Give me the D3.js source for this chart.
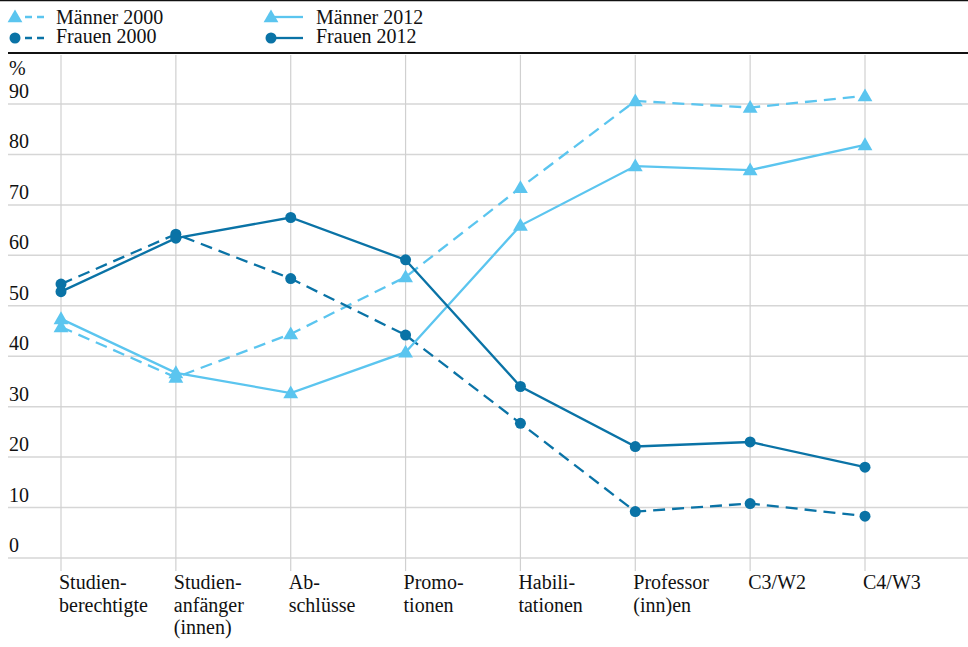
<!DOCTYPE html>
<html><head><meta charset="utf-8">
<script src="https://cdn.jsdelivr.net/npm/d3@7"></script>
<style>body{margin:0;background:#fff}svg{display:block}</style>
</head><body><svg id="c" width="968" height="647"></svg>
<script>
const categories = [["Studien-","berechtigte"],["Studien-","anfänger","(innen)"],["Ab-","schlüsse"],["Promo-","tionen"],["Habili-","tationen"],["Professor","(inn)en"],["C3/W2"],["C4/W3"]];
const maenner2000 = [45.8, 35.8, 44.4, 55.7, 73.4, 90.6, 89.3, 91.6];
const frauen2000  = [54.3, 64.2, 55.4, 44.2, 26.7, 9.2, 10.8, 8.3];
const maenner2012 = [47.4, 36.7, 32.7, 40.8, 65.9, 77.7, 76.9, 81.9];
const frauen2012  = [52.8, 63.4, 67.5, 59.1, 34.0, 22.1, 23.0, 18.0];
const yTicks = [0,10,20,30,40,50,60,70,80,90];
const seriesNames = ["Männer 2000","Frauen 2000","Männer 2012","Frauen 2012"];

const light = "#5BC5EF", dark = "#0A73A6";
const series = [
  {name: seriesNames[0], values: maenner2000, color: light, dash: "12,7", sym: "tri"},
  {name: seriesNames[1], values: frauen2000, color: dark, dash: "12,7", sym: "circ"},
  {name: seriesNames[2], values: maenner2012, color: light, dash: null, sym: "tri"},
  {name: seriesNames[3], values: frauen2012, color: dark, dash: null, sym: "circ"}
];

const svg = d3.select("#c")
  .attr("font-family", "'Liberation Serif', 'Times New Roman', Times, 'DejaVu Serif', serif")
  .attr("font-size", 20).attr("fill", "#111");
const x = d3.scalePoint().domain(d3.range(categories.length)).range([61, 865]);
const y = d3.scaleLinear().domain([0, 90]).range([558, 104]);

svg.append("line").attr("x1",0).attr("x2",968).attr("y1",0.5).attr("y2",0.5).attr("stroke","#111").attr("stroke-width",1.5);
svg.append("line").attr("x1",8).attr("x2",968).attr("y1",53).attr("y2",53).attr("stroke","#111").attr("stroke-width",2.2);

svg.append("g").selectAll("line").data(yTicks).join("line")
  .attr("x1",8).attr("x2",968).attr("y1",d=>y(d)).attr("y2",d=>y(d))
  .attr("stroke","#d6d6d6").attr("stroke-width",1.5);
svg.append("g").selectAll("line").data(d3.range(categories.length)).join("line")
  .attr("x1",d=>x(d)).attr("x2",d=>x(d)).attr("y1",55).attr("y2",571)
  .attr("stroke","#d0d0d0").attr("stroke-width",1.2);

svg.append("g").selectAll("text").data(yTicks).join("text")
  .attr("x",9).attr("y",d=>y(d)-6).text(d=>d);
svg.append("text").attr("x",9).attr("y",75).text("%");

const xl = svg.append("g").selectAll("text").data(categories).join("text")
  .attr("x",(d,i)=>x(i)-2).attr("y",589);
xl.selectAll("tspan").data(d=>d).join("tspan")
  .attr("x",function(){return this.parentNode.getAttribute("x");})
  .attr("dy",(d,i)=>i===0?0:22.5).text(d=>d);

const tri = d3.symbol().type(d3.symbolTriangle).size(95);
function drawSym(g, s, cx, cy){
  if(s.sym==="tri") g.append("path").attr("d",tri).attr("transform",`translate(${cx},${cy+1})`).attr("fill",s.color);
  else g.append("circle").attr("cx",cx).attr("cy",cy).attr("r",5.5).attr("fill",s.color);
}

const line = d3.line().x((d,i)=>x(i)).y(d=>y(d));
series.forEach(s=>{
  const g = svg.append("g");
  g.append("path").attr("d",line(s.values)).attr("fill","none").attr("stroke",s.color)
   .attr("stroke-width",2.3).attr("stroke-dasharray",s.dash);
  s.values.forEach((v,i)=>drawSym(g,s,x(i),y(v)));
});

series.forEach((s,k)=>{
  const col = k<2?0:1, row = k%2;
  const g = svg.append("g");
  const sx = col===0?15:271, cy = row===0?17:38;
  if(s.dash) {
    g.append("line").attr("x1",sx+10).attr("x2",sx+30).attr("y1",cy).attr("y2",cy)
     .attr("stroke",s.color).attr("stroke-width",2.3).attr("stroke-dasharray","7,5");
  } else {
    g.append("line").attr("x1",sx).attr("x2",sx+32).attr("y1",cy).attr("y2",cy)
     .attr("stroke",s.color).attr("stroke-width",2.3);
  }
  drawSym(g,s,sx,cy);
  g.append("text").attr("x",col===0?56:316).attr("y",row===0?24:43).text(s.name);
});
</script></body></html>
